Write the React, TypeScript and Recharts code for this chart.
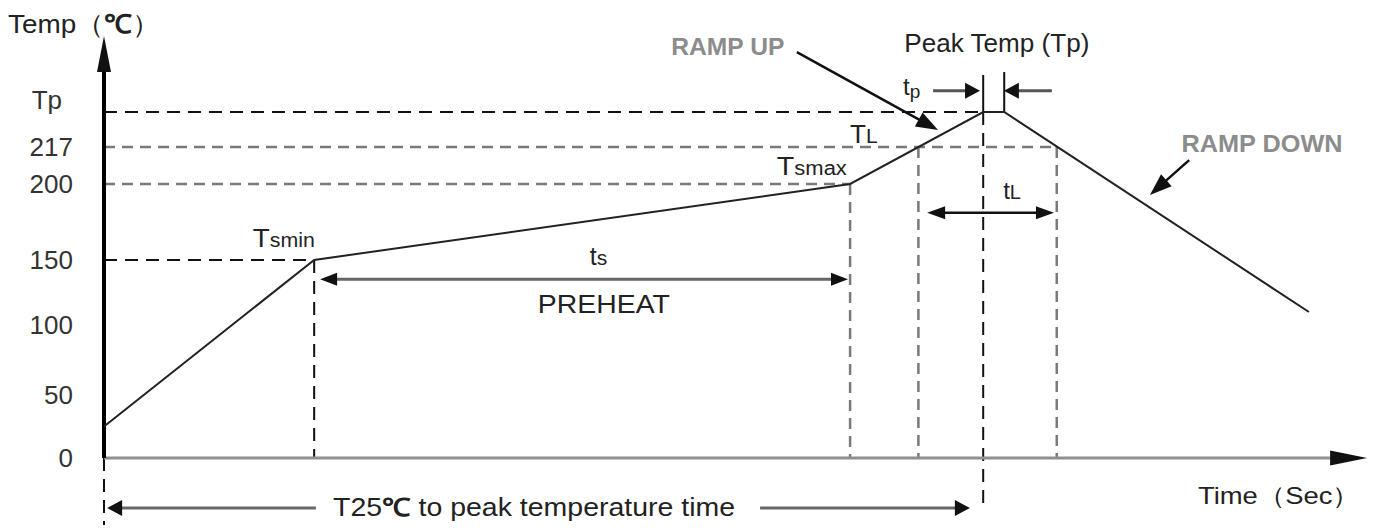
import { LineChart, Line, XAxis, YAxis, ReferenceLine, ReferenceDot } from "recharts";

const FONT = '"Liberation Sans", Arial, sans-serif';

// reflow profile: time (s) / temperature (°C)
const profileTime = [0, 60, 213, 251, 257, 344];
const profileTemp = [25, 150, 200, 245, 245, 110];

const tempTicks = [0, 50, 100, 150, 200, 217, 245];
const tempTickLabels = ["0", "50", "100", "150", "200", "217", "Tp"];

const TP = 245;
const TL = 217;
const TSMAX = 200;
const TSMIN = 150;

const tSmin = 60;
const tSmax = 213;
const tLup = 232.5;
const tPeak = 251;
const tPeakEnd = 257;
const tLdown = 272;

const data = profileTime.map((t, i) => ({ t, temp: profileTemp[i] }));

// the temperature axis of the drawing is not to scale
const axisStops = [-53, 0, 50, 100, 150, 200, 217, 245, 300];
const axisStopPos = [0, 0.1354, 0.2626, 0.404, 0.5354, 0.6889, 0.7636, 0.8343, 1];

function stopScale() {
  let domain = [-53, 300];
  let range = [0, 1];
  const frac = (v: number) => {
    let i = 0;
    while (i < axisStops.length - 2 && v > axisStops[i + 1]) i++;
    const a = axisStops[i];
    const b = axisStops[i + 1];
    return axisStopPos[i] + ((v - a) / (b - a)) * (axisStopPos[i + 1] - axisStopPos[i]);
  };
  const scale: any = (v: number) => range[0] + (range[1] - range[0]) * frac(v);
  scale.domain = (d?: number[]) => {
    if (!d) return [...domain];
    domain = [...d];
    return scale;
  };
  scale.range = (r?: number[]) => {
    if (!r) return [...range];
    range = [...r];
    return scale;
  };
  scale.ticks = () => tempTicks;
  scale.invert = (px: number) => {
    const f = (px - range[0]) / (range[1] - range[0]);
    let i = 0;
    while (i < axisStopPos.length - 2 && f > axisStopPos[i + 1]) i++;
    const a = axisStopPos[i];
    const b = axisStopPos[i + 1];
    return axisStops[i] + ((f - a) / (b - a)) * (axisStops[i + 1] - axisStops[i]);
  };
  scale.copy = () => stopScale().domain(domain).range(range);
  return scale;
}

const tempScale = stopScale();

type ArrowOpts = {
  color?: string;
  width?: number;
  head?: "end" | "both";
  len?: number;
  half?: number;
  headColor?: string;
};

function arrowShape(o: ArrowOpts) {
  const color = o.color ?? "#111";
  const len = o.len ?? 16;
  const half = o.half ?? 7;
  const headColor = o.headColor ?? "#111";
  return (p: any) => {
    const { x1, y1, x2, y2 } = p;
    const dx = x2 - x1;
    const dy = y2 - y1;
    const L = Math.hypot(dx, dy) || 1;
    const ux = dx / L;
    const uy = dy / L;
    const tri = (tx: number, ty: number, sx: number, sy: number) => {
      const bx = tx - sx * len;
      const by = ty - sy * len;
      return `${tx},${ty} ${bx - sy * half},${by + sx * half} ${bx + sy * half},${by - sx * half}`;
    };
    const heads = [<polygon key="e" points={tri(x2, y2, ux, uy)} fill={headColor} />];
    const ex = x2 - ux * (len - 2);
    const ey = y2 - uy * (len - 2);
    let sx = x1;
    let sy = y1;
    if (o.head === "both") {
      heads.push(<polygon key="s" points={tri(x1, y1, -ux, -uy)} fill={headColor} />);
      sx = x1 + ux * (len - 2);
      sy = y1 + uy * (len - 2);
    }
    return (
      <g>
        <line x1={sx} y1={sy} x2={ex} y2={ey} stroke={color} strokeWidth={o.width ?? 2.5} />
        {heads}
      </g>
    );
  };
}

function arrow(key: string, from: [number, number], to: [number, number], o: ArrowOpts) {
  return (
    <ReferenceLine
      key={key}
      segment={[
        { x: from[0], y: from[1] },
        { x: to[0], y: to[1] },
      ]}
      ifOverflow="visible"
      shape={arrowShape(o)}
    />
  );
}

function dashed(key: string, from: [number, number], to: [number, number], gray: boolean) {
  return (
    <ReferenceLine
      key={key}
      segment={[
        { x: from[0], y: from[1] },
        { x: to[0], y: to[1] },
      ]}
      ifOverflow="visible"
      stroke={gray ? "#7a7a7a" : "#111"}
      strokeWidth={gray ? 2.5 : 2}
      strokeDasharray={gray ? "11 7" : "13 8"}
    />
  );
}

function note(
  key: string,
  t: number,
  temp: number,
  content: any,
  opts: { anchor?: string; size?: number; fill?: string; bold?: boolean; width?: number } = {}
) {
  return (
    <ReferenceDot
      key={key}
      x={t}
      y={temp}
      r={0}
      ifOverflow="visible"
      shape={(p: any) => (
        <text
          x={p.cx}
          y={p.cy}
          textAnchor={opts.anchor ?? "start"}
          fontFamily={FONT}
          fontSize={opts.size ?? 25}
          fontWeight={opts.bold ? 700 : 400}
          fill={opts.fill ?? "#222"}
          textLength={opts.width}
          lengthAdjust={opts.width ? "spacingAndGlyphs" : undefined}
        >
          {content}
        </text>
      )}
    />
  );
}

function TempTick(props: any) {
  const { x, y, payload } = props;
  const i = tempTicks.indexOf(payload.value);
  const isTp = payload.value === TP;
  return (
    <text
      x={isTp ? x - 11 : x}
      y={isTp ? y - 12 : y}
      textAnchor="end"
      dominantBaseline="central"
      fontFamily={FONT}
      fontSize={26}
      fill="#333"
    >
      {tempTickLabels[i]}
    </text>
  );
}

export default function App() {
  return (
    <div style={{ position: "absolute", left: 0, top: 0, width: 1377, height: 530, background: "#fff" }}>
      <LineChart width={1377} height={530} data={data} margin={{ top: 30, right: 12, bottom: 5, left: 0 }}>
        <XAxis dataKey="t" type="number" domain={[0, 360]} hide allowDataOverflow />
        <YAxis
          type="number"
          scale={tempScale}
          domain={[-53, 300]}
          ticks={tempTicks}
          interval={0}
          width={104}
          axisLine={false}
          tickLine={false}
          tickSize={0}
          tickMargin={31}
          tick={<TempTick />}
          allowDataOverflow
        />

        {/* guide lines */}
        {dashed("tp-h", [0, TP], [tPeak, TP], false)}
        {dashed("tl-h", [0, TL], [tLdown, TL], true)}
        {dashed("tsmax-h", [0, TSMAX], [tSmax, TSMAX], true)}
        {dashed("tsmin-h", [0, TSMIN], [tSmin, TSMIN], false)}
        {dashed("tsmin-v", [tSmin, TSMIN], [tSmin, 0], false)}
        {dashed("tsmax-v", [tSmax, TSMAX], [tSmax, 0], true)}
        {dashed("tlup-v", [tLup, TL], [tLup, 0], true)}
        {dashed("tldown-v", [tLdown, TL], [tLdown, 0], true)}
        {dashed("peak-v", [tPeak, TP], [tPeak, -40], false)}
        {dashed("zero-v", [0, 0], [0, -53], false)}

        {/* axes */}
        {arrow("x-axis", [0, 0], [360.6, 0], { color: "#8f8f8f", width: 3, len: 37, half: 7.5 })}
        {arrow("y-axis", [0, 0], [0, 296], { color: "#000", width: 4, len: 36, half: 7 })}

        {/* tp markers */}
        <ReferenceLine segment={[{ x: tPeak, y: TP }, { x: tPeak, y: 269.8 }]} ifOverflow="visible" stroke="#111" strokeWidth={2} />
        <ReferenceLine segment={[{ x: tPeakEnd, y: TP }, { x: tPeakEnd, y: 271.8 }]} ifOverflow="visible" stroke="#111" strokeWidth={2} />
        {arrow("tp-r", [236.7, 259.3], [250.1, 259.3], { color: "#555", width: 3, len: 15, half: 8 })}
        {arrow("tp-l", [270.6, 259.3], [256.9, 259.3], { color: "#555", width: 3, len: 15, half: 8 })}

        {/* spans */}
        {arrow("preheat", [61.7, 135.2], [212.4, 135.2], { color: "#666", width: 3, head: "both", len: 17, half: 6.5 })}
        {arrow("tl-span", [235, 181.1], [271.2, 181.1], { color: "#111", width: 2.5, head: "both", len: 18, half: 6.5 })}
        {arrow("t25-l", [60.5, -39.6], [0.9, -39.6], { color: "#666", width: 3, len: 15, half: 8 })}
        {arrow("t25-r", [187.3, -39.6], [247.2, -39.6], { color: "#666", width: 3, len: 15, half: 8 })}
        {arrow("ramp-up", [197.8, 285.2], [238.1, 230.6], { color: "#111", width: 2.5, len: 22, half: 8 })}
        {arrow("ramp-down", [309.8, 211], [298.6, 192.8], { color: "#111", width: 2.5, len: 22, half: 8 })}

        <Line
          dataKey="temp"
          type="linear"
          stroke="#222"
          strokeWidth={2}
          dot={false}
          activeDot={false}
          isAnimationActive={false}
        />

        {/* labels */}
        {note("temp-title", -27.4, 298, <>Temp<tspan>（</tspan><tspan fontWeight={700}>℃</tspan><tspan>）</tspan></>, { size: 26, width: 152 })}
        {note("ramp-up-t", 178.1, 283.2, "RAMP UP", { anchor: "middle", size: 24, bold: true, fill: "#8c8c8c", width: 113 })}
        {note("peak-t", 254.9, 285.2, "Peak Temp (Tp)", { anchor: "middle", size: 25, width: 185 })}
        {note("tp-t", 228.1, 256.4, <>t<tspan fontSize={19} dy={3}>p</tspan></>, { size: 24 })}
        {note("tl-t", 213, 220.2, <>T<tspan fontSize={21}>L</tspan></>, { size: 26 })}
        {note("tsmax-t", 192.1, 204.1, <>T<tspan fontSize={20}>smax</tspan></>, { size: 26, width: 70 })}
        {note("tsmin-t", 42.5, 158.6, <>T<tspan fontSize={20}>smin</tspan></>, { size: 26, width: 62 })}
        {note("ts-t", 138.7, 146.2, <>t<tspan fontSize={21}>s</tspan></>, { size: 25 })}
        {note("preheat-t", 142.7, 109, "PREHEAT", { anchor: "middle", size: 25, width: 132 })}
        {note("tlspan-t", 256.7, 189.9, <>t<tspan fontSize={20}>L</tspan></>, { size: 24 })}
        {note("ramp-down-t", 330.6, 214.8, "RAMP DOWN", { anchor: "middle", size: 24, bold: true, fill: "#8c8c8c", width: 161 })}
        {note("time-t", 312.3, -36.4, "Time（Sec）", { size: 24, width: 162 })}
        {note("t25-t", 65.4, -45.9, <>T25<tspan fontWeight={700}>℃</tspan> to peak temperature time</>, { size: 25, width: 402 })}
      </LineChart>
    </div>
  );
}
